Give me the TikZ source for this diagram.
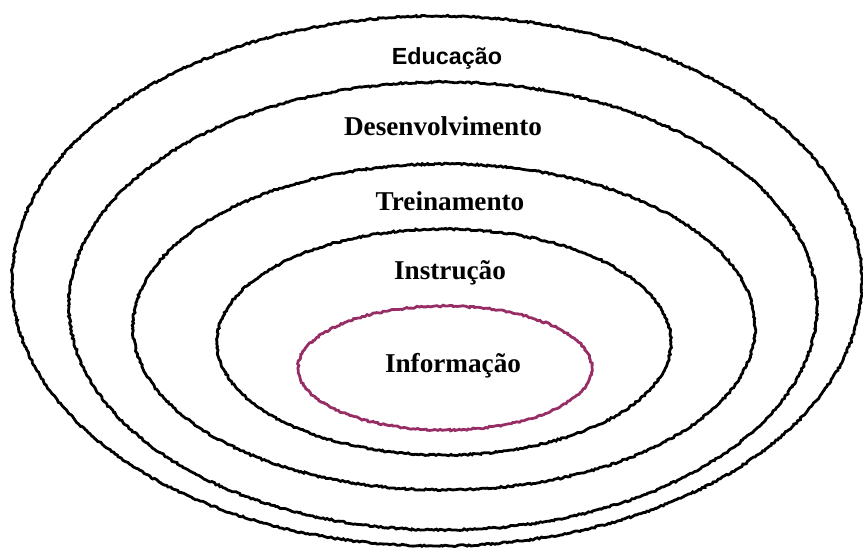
\documentclass[tikz,border=0pt]{standalone}
\usepackage{fontspec}
\setmainfont{Liberation Serif}
\newfontfamily\labelsans{Liberation Sans}
\usetikzlibrary{decorations.pathmorphing}
\definecolor{infopurple}{RGB}{150,45,100}

\begin{document}
\pgfmathsetseed{7}
\begin{tikzpicture}[
  x=0.75pt, y=-0.75pt,
  ring/.style={line width=2.1pt, decorate,
               decoration={random steps, segment length=1.6pt, amplitude=0.65pt}},
  lbl/.style={font=\fontsize{20.4}{24}\selectfont\bfseries, inner sep=0pt},
  toplbl/.style={font=\labelsans\fontsize{17.5}{21}\selectfont\bfseries, inner sep=0pt}
]
\useasboundingbox (0,0) rectangle (863,550);

% nested rings, outer to inner
\draw[ring] (437,281) ellipse [x radius=318.75pt, y radius=198.75pt];
\draw[ring] (443,306) ellipse [x radius=280.5pt, y radius=168pt];
\draw[ring] (444,327) ellipse [x radius=233.25pt, y radius=122.25pt];
\draw[ring] (444,342) ellipse [x radius=170.25pt, y radius=84.75pt];
\draw[ring, infopurple] (445,368) ellipse [x radius=110.25pt, y radius=46.5pt];

% labels
\node[toplbl] (edu)  at (447,58)  {Educação};
\node[lbl]    (dev)  at (443,126) {Desenvolvimento};
\node[lbl]    (trei) at (450,201) {Treinamento};
\node[lbl]    (inst) at (450,273) {Instrução};
\node[lbl]    (info) at (453,366) {Informação};
\end{tikzpicture}
\end{document}
